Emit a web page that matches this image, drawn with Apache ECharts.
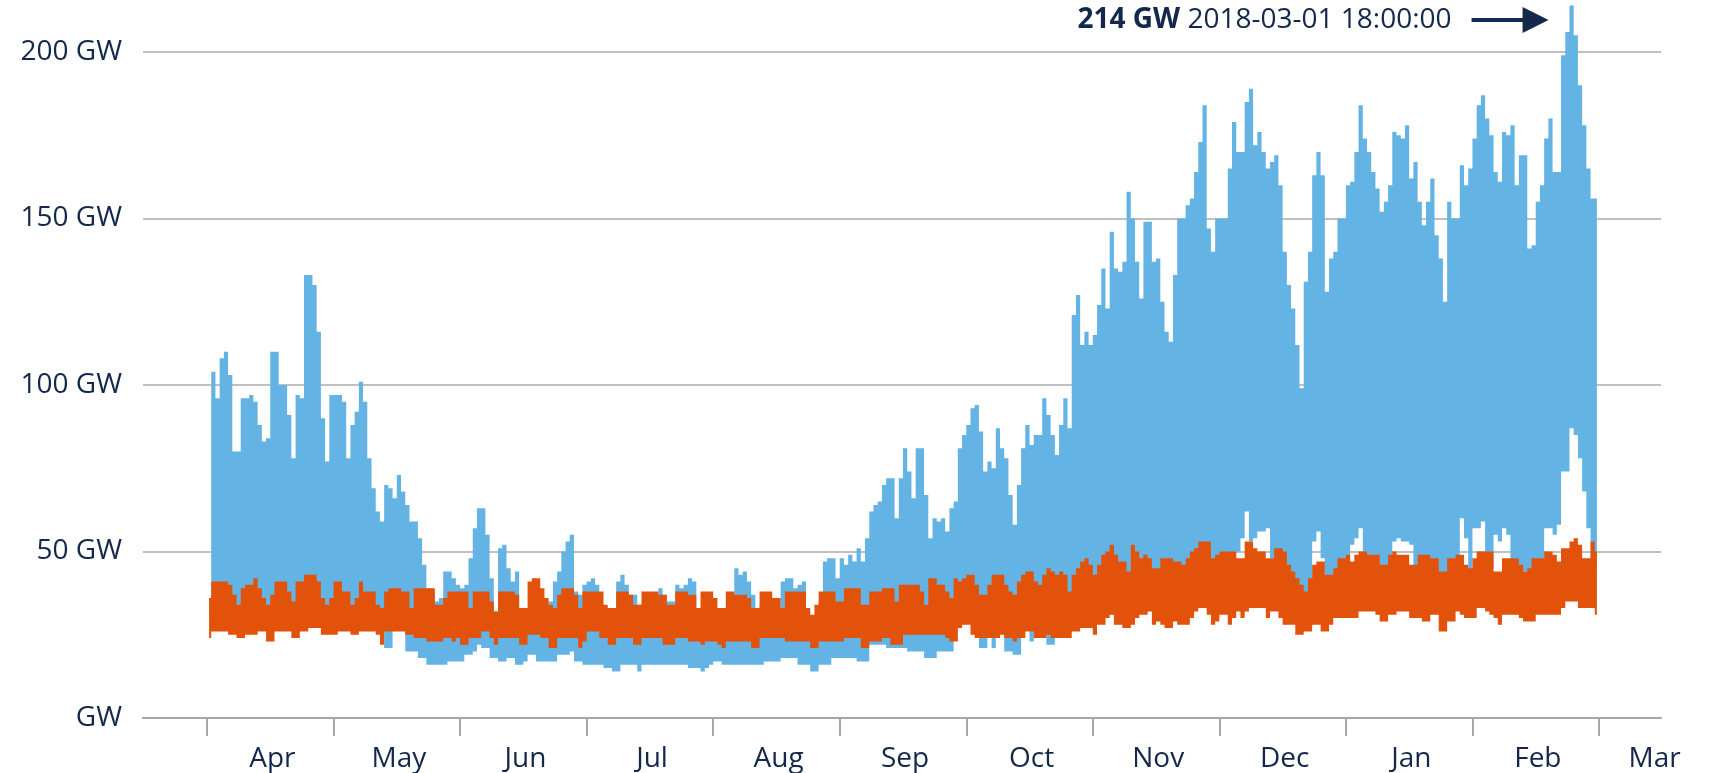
<!DOCTYPE html>
<html>
<head>
<meta charset="utf-8">
<title>GW</title>
<script src="https://cdn.jsdelivr.net/npm/echarts@6/dist/echarts.min.js"></script>
<style>
  html, body { margin: 0; padding: 0; background: #fff; }
  #chart { width: 1719px; height: 773px; }
</style>
</head>
<body>
<div id="chart"></div>
<script>
// month labels, each month takes 30 slots on the axis
const MONTHS = ['Apr', 'May', 'Jun', 'Jul', 'Aug', 'Sep', 'Oct', 'Nov', 'Dec', 'Jan', 'Feb'];
const END_MONTH = 'Mar';
const SLOTS_PER_MONTH = 30;
const PEAK_TIME = '2018-03-01 18:00:00';

// blue band, daily high / low (GW)
const BLUE_MAX = [
  36, 104, 96, 108, 110, 103, 80, 80, 96, 96,
  97, 95, 88, 83, 84, 110, 110, 100, 100, 91,
  78, 97, 96, 133, 133, 130, 116, 90, 77, 97,
  97, 97, 95, 78, 88, 92, 101, 95, 78, 69,
  62, 59, 70, 69, 66, 73, 68, 64, 59, 59,
  54, 46, 39, 38, 35, 36, 44, 44, 42, 40,
  39, 40, 48, 57, 63, 63, 55, 42, 32, 51,
  52, 45, 41, 44, 33, 32, 33, 33, 33, 33,
  32, 35, 41, 44, 50, 53, 55, 38, 37, 40,
  41, 42, 40, 33, 32, 32, 33, 41, 43, 40,
  37, 37, 34, 33, 33, 33, 33, 39, 37, 35,
  35, 40, 39, 40, 42, 41, 33, 33, 34, 34,
  33, 31, 31, 35, 35, 45, 43, 44, 41, 37,
  32, 34, 34, 34, 33, 32, 41, 42, 42, 39,
  40, 41, 32, 30, 30, 35, 47, 48, 48, 42,
  48, 46, 49, 47, 51, 47, 54, 62, 64, 65,
  70, 72, 72, 60, 72, 81, 74, 66, 81, 81,
  67, 54, 60, 59, 60, 56, 63, 65, 81, 85,
  88, 93, 94, 86, 74, 77, 75, 87, 81, 78,
  67, 58, 70, 81, 88, 82, 85, 85, 96, 91,
  85, 79, 88, 96, 87, 121, 127, 112, 116, 112,
  115, 124, 135, 123, 146, 135, 134, 137, 158, 150,
  137, 126, 149, 149, 137, 138, 125, 116, 113, 133,
  150, 150, 154, 156, 164, 173, 184, 147, 140, 150,
  150, 150, 165, 179, 170, 170, 185, 189, 172, 176,
  170, 165, 167, 169, 160, 140, 130, 123, 112, 99,
  131, 140, 163, 170, 163, 128, 138, 140, 150, 150,
  160, 161, 170, 184, 174, 170, 164, 159, 152, 155,
  160, 176, 175, 174, 178, 162, 167, 155, 148, 155,
  162, 145, 138, 125, 155, 150, 150, 166, 160, 165,
  174, 184, 187, 180, 175, 164, 161, 176, 175, 178,
  160, 169, 169, 141, 142, 155, 160, 174, 180, 164,
  164, 199, 206, 214, 205, 190, 178, 165, 156, 156
];
const BLUE_MIN = [
  30, 30, 30, 30, 30, 30, 30, 30, 30, 30,
  30, 30, 30, 30, 30, 30, 30, 30, 30, 30,
  30, 30, 30, 30, 30, 30, 30, 30, 30, 30,
  30, 30, 30, 30, 30, 30, 30, 30, 30, 30,
  30, 30, 21, 21, 28, 28, 28, 20, 20, 20,
  18, 18, 16, 16, 16, 16, 16, 17, 17, 17,
  17, 19, 19, 20, 22, 21, 21, 18, 18, 17,
  17, 18, 18, 16, 16, 17, 19, 19, 17, 17,
  17, 17, 17, 19, 19, 19, 20, 17, 17, 16,
  16, 16, 16, 16, 15, 15, 14, 14, 16, 16,
  16, 16, 14, 16, 16, 16, 16, 16, 16, 16,
  16, 16, 16, 16, 15, 15, 15, 14, 15, 16,
  17, 17, 16, 16, 16, 16, 16, 16, 16, 16,
  16, 16, 17, 17, 17, 17, 18, 18, 18, 18,
  16, 16, 16, 14, 14, 16, 16, 16, 18, 18,
  18, 18, 18, 18, 17, 17, 17, 22, 22, 22,
  22, 21, 21, 21, 21, 21, 20, 20, 20, 20,
  18, 18, 18, 20, 20, 20, 20, 28, 30, 30,
  30, 30, 30, 21, 21, 30, 21, 30, 30, 20,
  20, 19, 19, 30, 30, 23, 30, 30, 30, 22,
  22, 30, 30, 30, 30, 32, 32, 33, 33, 33,
  32, 33, 35, 35, 36, 36, 35, 35, 34, 36,
  36, 36, 36, 36, 35, 35, 36, 36, 36, 36,
  36, 36, 37, 38, 40, 40, 42, 42, 40, 42,
  43, 43, 43, 43, 50, 54, 62, 53, 54, 56,
  56, 57, 48, 44, 44, 42, 40, 38, 36, 34,
  33, 35, 53, 56, 48, 38, 38, 40, 42, 42,
  42, 52, 54, 57, 44, 44, 44, 44, 40, 40,
  44, 53, 54, 53, 53, 52, 40, 42, 42, 42,
  42, 42, 38, 38, 42, 42, 44, 60, 54, 44,
  57, 57, 59, 45, 45, 55, 53, 57, 55, 44,
  44, 44, 44, 40, 42, 44, 44, 57, 57, 55,
  58, 74, 74, 87, 85, 78, 68, 57, 45, 45
];

// orange band, daily high / low (GW)
const ORANGE_MAX = [
  36, 41, 41, 41, 41, 40, 37, 34, 39, 40,
  40, 42, 39, 36, 34, 37, 41, 41, 41, 38,
  35, 41, 41, 43, 43, 43, 41, 36, 34, 36,
  41, 41, 38, 38, 34, 36, 41, 38, 38, 38,
  34, 33, 38, 39, 39, 39, 38, 38, 33, 39,
  39, 39, 39, 39, 34, 34, 36, 38, 38, 38,
  38, 38, 33, 38, 38, 38, 38, 35, 32, 38,
  38, 38, 38, 37, 33, 33, 41, 42, 42, 39,
  36, 34, 33, 37, 39, 39, 39, 37, 33, 38,
  38, 38, 38, 38, 34, 33, 33, 38, 38, 38,
  37, 34, 34, 38, 38, 38, 38, 37, 37, 34,
  34, 38, 38, 38, 37, 37, 33, 38, 38, 38,
  36, 33, 33, 38, 38, 37, 37, 37, 36, 33,
  33, 38, 38, 38, 36, 36, 33, 38, 38, 38,
  38, 38, 33, 31, 34, 38, 38, 38, 38, 35,
  35, 39, 39, 39, 39, 34, 34, 38, 38, 38,
  39, 39, 39, 35, 40, 40, 40, 40, 40, 38,
  34, 42, 42, 40, 40, 38, 36, 42, 41, 42,
  43, 43, 40, 37, 37, 40, 43, 43, 43, 40,
  38, 37, 41, 43, 44, 44, 41, 40, 43, 45,
  44, 43, 44, 43, 38, 43, 45, 47, 48, 46,
  43, 46, 49, 50, 52, 49, 47, 47, 44, 52,
  50, 48, 49, 48, 45, 45, 48, 48, 48, 47,
  47, 46, 48, 50, 51, 53, 53, 53, 48, 49,
  50, 50, 50, 50, 48, 48, 53, 53, 51, 50,
  50, 48, 48, 51, 51, 50, 46, 44, 42, 40,
  38, 42, 46, 47, 47, 43, 43, 45, 48, 48,
  49, 47, 49, 50, 50, 49, 49, 49, 46, 46,
  49, 50, 49, 49, 49, 46, 46, 49, 49, 49,
  48, 48, 44, 44, 48, 48, 49, 49, 46, 45,
  48, 50, 50, 50, 50, 44, 44, 48, 48, 48,
  48, 46, 44, 45, 48, 48, 48, 50, 50, 49,
  47, 51, 51, 53, 54, 52, 48, 48, 53, 50
];
const ORANGE_MIN = [
  24, 26, 26, 26, 26, 25, 25, 24, 24, 25,
  25, 25, 26, 26, 23, 23, 26, 26, 26, 26,
  24, 24, 26, 26, 27, 27, 27, 25, 25, 25,
  25, 26, 26, 26, 25, 25, 26, 26, 26, 26,
  25, 22, 26, 26, 26, 26, 26, 25, 25, 24,
  24, 24, 23, 23, 23, 23, 24, 24, 23, 24,
  22, 22, 24, 24, 24, 26, 26, 24, 22, 24,
  24, 24, 24, 24, 22, 22, 25, 25, 25, 24,
  24, 21, 21, 24, 24, 24, 24, 24, 21, 23,
  26, 26, 26, 24, 24, 22, 22, 24, 24, 24,
  24, 22, 22, 24, 24, 24, 24, 24, 22, 22,
  22, 24, 24, 24, 23, 23, 23, 22, 23, 23,
  23, 22, 21, 23, 23, 23, 23, 23, 23, 21,
  21, 24, 24, 24, 24, 24, 24, 23, 23, 23,
  23, 23, 23, 21, 21, 23, 23, 23, 23, 23,
  23, 24, 24, 24, 24, 21, 21, 23, 23, 23,
  24, 24, 22, 22, 22, 25, 25, 25, 25, 25,
  25, 25, 25, 25, 25, 24, 23, 23, 27, 28,
  28, 25, 24, 24, 24, 24, 24, 24, 25, 24,
  24, 23, 24, 24, 26, 26, 24, 24, 24, 25,
  24, 24, 24, 24, 24, 26, 26, 27, 27, 27,
  25, 28, 28, 30, 31, 28, 28, 27, 27, 28,
  30, 31, 31, 32, 28, 29, 28, 27, 27, 29,
  28, 28, 28, 30, 32, 33, 33, 31, 28, 29,
  31, 31, 28, 30, 32, 30, 32, 33, 33, 33,
  33, 30, 32, 32, 30, 28, 28, 28, 25, 25,
  26, 26, 28, 28, 26, 26, 28, 30, 30, 30,
  30, 30, 30, 32, 32, 32, 32, 31, 29, 29,
  31, 31, 32, 32, 32, 30, 30, 30, 29, 29,
  31, 31, 26, 26, 29, 29, 32, 31, 30, 30,
  30, 33, 33, 32, 31, 30, 28, 31, 31, 31,
  31, 30, 29, 29, 29, 31, 31, 31, 31, 31,
  31, 33, 35, 35, 35, 33, 33, 33, 33, 31
];

const NAVY = '#14284b';
const BLUE = '#63b4e4';
const ORANGE = '#e2520a';
const GRID_GREY = '#c0c0c0';
const AXIS_GREY = '#a6a6a6';
const FONT = 'Open Sans';
const FONT_SIZE = 28;

const chart = echarts.init(document.getElementById('chart'));

// axis slots: month name in the middle of each 30-slot month
const slots = BLUE_MAX.map((_, i) =>
  i % SLOTS_PER_MONTH === SLOTS_PER_MONTH / 2 ? MONTHS[Math.floor(i / SLOTS_PER_MONTH)] : '');
// frame axis is wider than the data (half a month each side), only carries the last label
const PAD = SLOTS_PER_MONTH / 2;
const frameSlots = new Array(BLUE_MAX.length + 2 * PAD).fill('');
frameSlots[frameSlots.length - 2] = END_MONTH;

// low part is invisible, the stacked part on top is the filled band
function band(name, low, high, color) {
  return [
    {
      name: name + '-low', type: 'line', stack: name, data: low,
      step: 'middle', symbol: 'none', lineStyle: { opacity: 0 },
      silent: true, clip: false, xAxisIndex: 0, yAxisIndex: 0
    },
    {
      name: name, type: 'line', stack: name, data: high.map((v, i) => v - low[i]),
      step: 'middle', symbol: 'none', lineStyle: { opacity: 0 },
      areaStyle: { color: color, opacity: 1 },
      silent: true, clip: false, xAxisIndex: 0, yAxisIndex: 0
    }
  ];
}

chart.setOption({
  animation: false,
  backgroundColor: '#fff',
  textStyle: { fontFamily: FONT, color: NAVY },
  grid: [
    { left: 207, right: 120, top: 52, bottom: 54 },  // data
    { left: 143, right: 58, top: 52, bottom: 54 }    // frame, gridlines, y labels
  ],
  xAxis: [
    {
      type: 'category', gridIndex: 0, data: slots, boundaryGap: true,
      axisLine: { show: false },
      axisTick: {
        show: true, length: 18, interval: (i) => i % SLOTS_PER_MONTH === 0,
        lineStyle: { color: AXIS_GREY, width: 2 }
      },
      axisLabel: {
        interval: (i) => i % SLOTS_PER_MONTH === SLOTS_PER_MONTH / 2,
        fontSize: FONT_SIZE, color: NAVY, fontFamily: FONT, margin: 27
      },
      splitLine: { show: false }
    },
    {
      type: 'category', gridIndex: 1, data: frameSlots, boundaryGap: true,
      axisLine: { show: true, lineStyle: { color: AXIS_GREY, width: 2 } },
      axisTick: { show: false },
      axisLabel: { interval: 0, fontSize: FONT_SIZE, color: NAVY, fontFamily: FONT, margin: 27 },
      splitLine: { show: false }
    }
  ],
  yAxis: [
    { type: 'value', gridIndex: 0, min: 0, max: 200, interval: 50, show: false },
    {
      type: 'value', gridIndex: 1, min: 0, max: 200, interval: 50,
      axisLine: { show: false }, axisTick: { show: false },
      axisLabel: {
        fontSize: FONT_SIZE, color: NAVY, fontFamily: FONT, margin: 21,
        formatter: (v) => (v === 0 ? 'GW' : v + ' GW')
      },
      splitLine: { show: true, lineStyle: { color: GRID_GREY, width: 2 } }
    }
  ],
  series: [].concat(
    band('blue', BLUE_MIN, BLUE_MAX, BLUE),
    band('orange', ORANGE_MIN, ORANGE_MAX, ORANGE)
  )
});

// peak annotation: text + arrow pointing at the highest blue value
const peak = Math.max.apply(null, BLUE_MAX);
const peakIdx = BLUE_MAX.indexOf(peak);
const px = chart.convertToPixel({ xAxisIndex: 0, yAxisIndex: 0 }, [peakIdx, peak])[0];
const ay = 20;

chart.setOption({
  graphic: [
    {
      type: 'text', x: px - 120, y: ay,
      style: {
        text: '{b|' + peak + ' GW} ' + PEAK_TIME,
        fill: NAVY, font: FONT_SIZE + 'px "' + FONT + '"',
        align: 'right', verticalAlign: 'middle',
        rich: { b: { fontWeight: 'bold', fontSize: FONT_SIZE, fontFamily: FONT, fill: NAVY } }
      }
    },
    {
      type: 'line',
      shape: { x1: px - 100, y1: ay, x2: px - 46, y2: ay },
      style: { stroke: NAVY, lineWidth: 4 }
    },
    {
      type: 'polygon',
      shape: { points: [[px - 49, ay - 13], [px - 23, ay], [px - 49, ay + 13]] },
      style: { fill: NAVY }
    }
  ]
});
</script>
</body>
</html>
